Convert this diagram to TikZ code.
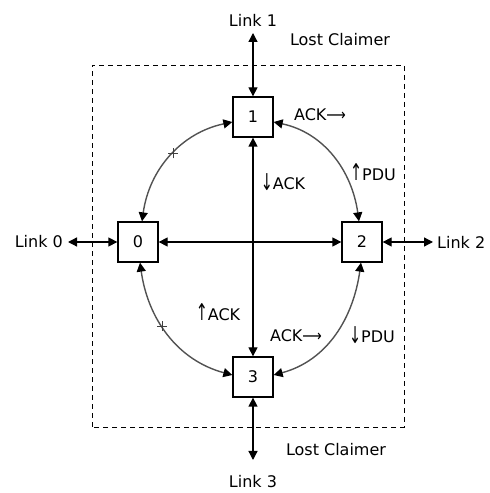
\documentclass[tikz,border=0pt]{standalone}
\usepackage{fontspec}
\usepackage{graphicx}
\setmainfont{DejaVu Sans}
\usetikzlibrary{arrows.meta}

% tall thin arrows used inside the message labels
\newcommand{\msgup}{\scalebox{0.9}[1.45]{↑}}
\newcommand{\msgdown}{\raisebox{-0.1ex}{\scalebox{0.9}[1.45]{↓}}}
\newcommand{\msgright}{\scalebox{0.85}[1]{⟶}}

\begin{document}
\begin{tikzpicture}[x=1pt,y=1pt,
  every node/.style={font=\fontsize{16}{19}\selectfont},
  box/.style={draw, line width=1.3, fill=white, minimum width=40, minimum height=40, inner sep=0},
  link/.style={line width=1.3, {Triangle[length=9,width=9]}-{Triangle[length=9,width=9]}},
  curved/.style={line width=1.4, draw=black!68, {Triangle[length=9,width=9,color=black]}-{Triangle[length=9,width=9,color=black]}},
  lbl/.style={inner sep=0},
  plus/.style={line width=0.9, draw=black!75}
]
\useasboundingbox (0,0) rectangle (490,493);

% boundary of the claimer region
\draw[line width=0.9, dash pattern=on 5 off 4] (92,66) rectangle (404,428);

% stations
\node[box] (n1) at (253,376) {1};
\node[box] (n0) at (138,251) {0};
\node[box] (n2) at (362,251) {2};
\node[box] (n3) at (253,116) {3};

% external links
\node[lbl] (l1) at (253,473) {Link 1};
\node[lbl] (l3) at (253,11) {Link 3};
\node[lbl, anchor=east] (l0) at (63,251) {Link 0};
\node[lbl, anchor=west] (l2) at (437,251) {Link 2};
\coordinate (e1) at (253,460);
\coordinate (e3) at (253,33);
\coordinate (e0) at (68,251);
\coordinate (e2) at (433,251);

\node[lbl] (lc1) at (340,453) {Lost Claimer};
\node[lbl] (lc3) at (336,43) {Lost Claimer};

\draw[link] (e1) -- (n1.north);
\draw[link] (n3.south) -- (e3);
\draw[link] (e0) -- (n0.west);
\draw[link] (n2.east) -- (e2);

% crossing paths
\draw[link] (n1.south) -- (n3.north);
\draw[link] (n0.east) -- (n2.west);

% ring arcs
\draw[curved] ([yshift=-5]n1.west) to[out=192,in=82] coordinate[pos=0.47] (m1) ([xshift=4]n0.north);
\draw[curved] ([yshift=-5]n1.east) to[out=-12,in=98] ([xshift=-3]n2.north);
\draw[curved] ([xshift=2]n0.south) to[out=278,in=165] coordinate[pos=0.43] (m3) ([yshift=2]n3.west);
\draw[curved] ([xshift=-1]n2.south) to[out=262,in=15] ([yshift=2]n3.east);

% crossing marks on the left arcs
\draw[plus] ([xshift=-5]m1) -- ([xshift=5]m1) ([yshift=-5]m1) -- ([yshift=5]m1);
\draw[plus] ([xshift=-5]m3) -- ([xshift=5]m3) ([yshift=-5]m3) -- ([yshift=5]m3);

% message labels
\node[lbl] (a1) at (320,378) {ACK\msgright};
\node[lbl] (p1) at (373,321) {\msgup PDU};
\node[lbl] (a2) at (283,311) {\msgdown ACK};
\node[lbl] (a3) at (218,181) {\msgup ACK};
\node[lbl] (a4) at (296,157) {ACK\msgright};
\node[lbl] (p2) at (372,158) {\msgdown PDU};
\end{tikzpicture}
\end{document}
